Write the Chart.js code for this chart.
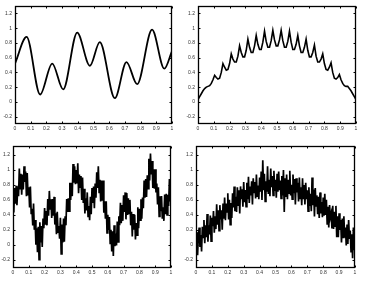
<!DOCTYPE html>
<html>
<head>
<meta charset="utf-8">
<script src="https://cdn.jsdelivr.net/npm/chart.js@4/dist/chart.umd.min.js"></script>
<style>
html, body { margin: 0; padding: 0; background: #fff; }
body { width: 369px; height: 283px; position: relative; overflow: hidden; }
canvas { position: absolute; }
</style>
</head>
<body>
<canvas id="p1" width="184" height="140" style="left:0;top:0"></canvas>
<canvas id="p2" width="185" height="140" style="left:184px;top:0"></canvas>
<canvas id="p3" width="184" height="143" style="left:0;top:140px"></canvas>
<canvas id="p4" width="185" height="143" style="left:184px;top:140px"></canvas>
<script>
const xTicks = [0, 0.1, 0.2, 0.3, 0.4, 0.5, 0.6, 0.7, 0.8, 0.9, 1];
const yTicks = [-0.2, 0, 0.2, 0.4, 0.6, 0.8, 1, 1.2];

// top left: smooth wave, read at its turning points
const waveX = [0, 0.074, 0.16, 0.237, 0.307, 0.396, 0.477, 0.54, 0.636, 0.71, 0.778, 0.873, 0.951, 1];
const waveY = [0.52, 0.88, 0.10, 0.52, 0.17, 0.94, 0.49, 0.81, 0.05, 0.54, 0.24, 0.98, 0.45, 0.69];

// top right: arch with cusps, evenly sampled
const cuspY = [0.03,
  0.07, 0.11, 0.15, 0.18, 0.20,
  0.21, 0.22, 0.25, 0.30, 0.36,
  0.33, 0.31, 0.32, 0.40, 0.52,
  0.47, 0.43, 0.44, 0.52, 0.65,
  0.58, 0.54, 0.54, 0.62, 0.76,
  0.67, 0.61, 0.61, 0.70, 0.85,
  0.74, 0.67, 0.67, 0.76, 0.90,
  0.78, 0.71, 0.71, 0.81, 0.96,
  0.82, 0.74, 0.74, 0.83, 0.97,
  0.84, 0.76, 0.76, 0.84, 0.97,
  0.83, 0.74, 0.74, 0.82, 0.96,
  0.81, 0.71, 0.71, 0.78, 0.90,
  0.76, 0.67, 0.67, 0.74, 0.85,
  0.70, 0.61, 0.61, 0.67, 0.77,
  0.62, 0.54, 0.54, 0.58, 0.65,
  0.52, 0.44, 0.43, 0.47, 0.53,
  0.40, 0.32, 0.31, 0.33, 0.37,
  0.30, 0.25, 0.22, 0.21, 0.21,
  0.18, 0.15, 0.11, 0.07, 0.03];

// bottom left: noisy wave, evenly sampled
const noisyWaveY = [
  0.61, 0.43, 0.76, 0.55, 0.79, 0.53, 0.77, 0.65, 1.02, 0.75,
  0.95, 0.67, 0.94, 0.74, 1.05, 0.84, 0.98, 0.65, 0.96, 0.67,
  0.77, 0.50, 0.78, 0.42, 0.48, 0.26, 0.55, 0.20, 0.33, 0.00,
  0.22, -0.10, 0.24, -0.20, 0.30, 0.03, 0.25, -0.03, 0.35, 0.22,
  0.49, 0.27, 0.45, 0.26, 0.61, 0.39, 0.72, 0.48, 0.61, 0.36,
  0.61, 0.39, 0.64, 0.27, 0.42, 0.14, 0.44, 0.17, 0.25, 0.08,
  0.36, -0.12, 0.27, 0.03, 0.35, 0.04, 0.38, 0.26, 0.61, 0.44,
  0.62, 0.45, 0.83, 0.60, 0.83, 0.65, 1.08, 0.83, 1.05, 0.81,
  1.00, 0.82, 1.09, 0.69, 0.94, 0.77, 0.92, 0.60, 0.90, 0.56,
  0.75, 0.42, 0.62, 0.46, 0.70, 0.38, 0.52, 0.33, 0.64, 0.41,
  0.76, 0.56, 0.78, 0.49, 0.82, 0.63, 0.97, 0.76, 1.05, 0.70,
  0.87, 0.58, 0.86, 0.59, 0.86, 0.43, 0.58, 0.35, 0.58, 0.16,
  0.40, 0.20, 0.37, 0.02, 0.20, -0.09, 0.18, -0.15, 0.26, -0.02,
  0.15, -0.01, 0.31, 0.04, 0.38, 0.26, 0.56, 0.29, 0.53, 0.32,
  0.66, 0.44, 0.70, 0.34, 0.69, 0.40, 0.62, 0.42, 0.60, 0.26,
  0.44, 0.11, 0.41, 0.20, 0.40, 0.07, 0.29, 0.13, 0.50, 0.22,
  0.48, 0.33, 0.61, 0.35, 0.63, 0.49, 0.86, 0.63, 0.88, 0.64,
  0.93, 0.75, 1.15, 0.86, 1.22, 0.94, 1.12, 0.76, 1.01, 0.75,
  1.01, 0.70, 0.82, 0.54, 0.77, 0.38, 0.65, 0.45, 0.65, 0.35,
  0.50, 0.32, 0.67, 0.41, 0.68, 0.40, 0.67, 0.52, 0.88, 0.60,
  0.56];

// bottom right: noisy arch, evenly sampled
const noisyArchY = [
  -0.05, 0.17, -0.14, 0.13, 0.23, -0.03, 0.13, -0.09, 0.24, 0.10,
  0.33, 0.02, 0.26, 0.10, 0.41, 0.04, 0.26, 0.14, 0.39, 0.05,
  0.36, 0.25, 0.45, 0.16, 0.38, 0.21, 0.54, 0.27, 0.46, 0.19,
  0.53, 0.34, 0.46, 0.20, 0.55, 0.35, 0.63, 0.33, 0.55, 0.44,
  0.69, 0.34, 0.60, 0.27, 0.56, 0.36, 0.69, 0.50, 0.78, 0.45,
  0.64, 0.44, 0.77, 0.53, 0.73, 0.42, 0.78, 0.61, 0.74, 0.51,
  0.84, 0.57, 0.73, 0.51, 0.83, 0.61, 0.91, 0.56, 0.78, 0.66,
  0.85, 0.54, 0.89, 0.70, 0.84, 0.62, 0.94, 0.64, 0.79, 0.61,
  0.90, 0.71, 0.98, 0.60, 1.13, 0.73, 0.95, 0.58, 0.85, 0.71,
  1.05, 0.68, 0.87, 0.65, 1.02, 0.77, 0.92, 0.66, 0.99, 0.72,
  0.87, 0.63, 0.95, 0.71, 0.98, 0.73, 0.86, 0.62, 0.92, 0.66,
  1.00, 0.44, 0.89, 0.64, 0.94, 0.61, 0.87, 0.69, 0.99, 0.66,
  0.80, 0.61, 0.94, 0.69, 0.88, 0.54, 0.89, 0.70, 0.83, 0.58,
  0.90, 0.62, 0.77, 0.53, 0.89, 0.61, 0.80, 0.54, 0.83, 0.61,
  0.73, 0.45, 0.77, 0.52, 0.68, 0.45, 0.90, 0.53, 0.74, 0.38,
  0.76, 0.52, 0.66, 0.41, 0.64, 0.36, 0.70, 0.42, 0.57, 0.37,
  0.63, 0.39, 0.68, 0.40, 0.60, 0.28, 0.51, 0.23, 0.53, 0.37,
  0.42, 0.22, 0.52, 0.21, 0.44, 0.25, 0.52, 0.10, 0.38, 0.10,
  0.42, 0.20, 0.33, 0.03, 0.35, 0.10, 0.38, 0.10, 0.23, -0.01,
  0.27, 0.01, 0.33, 0.08, 0.19, -0.09, 0.14, -0.18, 0.23, -0.07,
  0.02];

function evenPoints(ys) {
  return ys.map((y, i) => ({ x: i / (ys.length - 1), y: y }));
}

// frame and inward ticks on all four sides
const boxPlugin = {
  id: 'box',
  afterDraw(chart) {
    const { ctx, chartArea: a, scales } = chart;
    const L = Math.round(a.left) + 0.5, R = Math.round(a.right) - 0.5;
    const T = Math.round(a.top) + 0.5, B = Math.round(a.bottom) - 0.5;
    ctx.save();
    ctx.strokeStyle = '#000';
    ctx.lineWidth = 1;
    ctx.beginPath();
    scales.x.ticks.forEach(t => {
      const px = Math.round(scales.x.getPixelForValue(t.value)) + 0.5;
      ctx.moveTo(px, B); ctx.lineTo(px, B - 2);
      ctx.moveTo(px, T); ctx.lineTo(px, T + 2);
    });
    scales.y.ticks.forEach(t => {
      const py = Math.round(scales.y.getPixelForValue(t.value)) + 0.5;
      ctx.moveTo(L, py); ctx.lineTo(L + 2, py);
      ctx.moveTo(R, py); ctx.lineTo(R - 2, py);
    });
    ctx.stroke();
    ctx.lineWidth = 1.3;
    ctx.strokeRect(L, T, R - L, B - T);
    ctx.restore();
  }
};

function makeChart(id, points, opts) {
  const tickFont = { family: 'Liberation Sans, Arial, sans-serif', size: 5 };
  return new Chart(document.getElementById(id), {
    type: 'line',
    data: {
      datasets: [{
        data: points,
        borderColor: '#000',
        borderWidth: opts.lineWidth,
        pointRadius: 0,
        fill: false,
        tension: 0,
        cubicInterpolationMode: opts.smooth ? 'monotone' : 'default'
      }]
    },
    options: {
      responsive: false,
      animation: false,
      devicePixelRatio: 1,
      layout: { padding: { left: 0, top: opts.padTop, right: opts.padRight, bottom: 0 } },
      plugins: { legend: { display: false }, tooltip: { enabled: false } },
      scales: {
        x: {
          type: 'linear',
          min: 0,
          max: 1,
          afterBuildTicks: s => { s.ticks = xTicks.map(v => ({ value: v })); },
          afterFit: s => { s.height = opts.xHeight; },
          grid: { display: false, drawTicks: false },
          border: { display: false },
          ticks: {
            font: tickFont,
            color: '#333',
            padding: 2,
            maxRotation: 0,
            autoSkip: false,
            callback: v => String(+v.toFixed(1))
          }
        },
        y: {
          type: 'linear',
          min: opts.yMin,
          max: opts.yMax,
          afterBuildTicks: s => { s.ticks = yTicks.map(v => ({ value: v })); },
          afterFit: s => { s.width = opts.yWidth; },
          grid: { display: false, drawTicks: false },
          border: { display: false },
          ticks: {
            font: tickFont,
            color: '#333',
            padding: 3,
            autoSkip: false,
            callback: v => String(+v.toFixed(1))
          }
        }
      }
    },
    plugins: [boxPlugin]
  });
}

makeChart('p1', waveX.map((x, i) => ({ x: x, y: waveY[i] })),
  { smooth: true, lineWidth: 1.8, padTop: 4, padRight: 12, yWidth: 15, xHeight: 16, yMin: -0.3, yMax: 1.3 });
makeChart('p2', evenPoints(cuspY),
  { smooth: false, lineWidth: 1.6, padTop: 4, padRight: 13, yWidth: 14, xHeight: 16, yMin: -0.3, yMax: 1.3 });
makeChart('p3', evenPoints(noisyWaveY),
  { smooth: false, lineWidth: 1.7, padTop: 6, padRight: 13, yWidth: 13, xHeight: 15, yMin: -0.31, yMax: 1.32 });
makeChart('p4', evenPoints(noisyArchY),
  { smooth: false, lineWidth: 1.7, padTop: 6, padRight: 14, yWidth: 12, xHeight: 15, yMin: -0.31, yMax: 1.32 });
</script>
</body>
</html>
